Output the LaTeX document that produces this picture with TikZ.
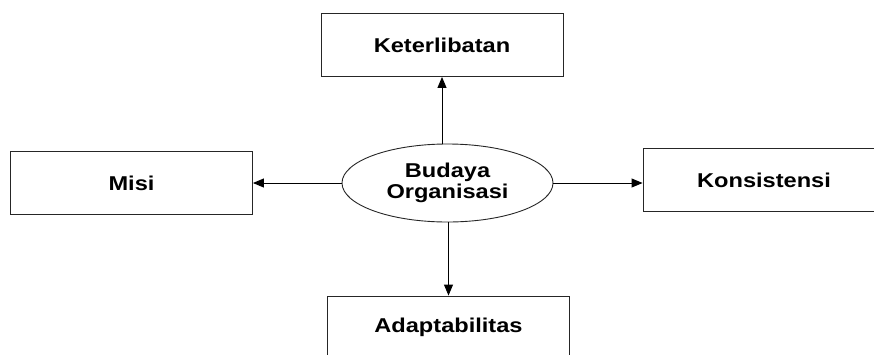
\documentclass[tikz,border=0pt]{standalone}
\usepackage{fontspec}
\newfontfamily\lab[FakeStretch=1.18]{Liberation Sans}
\usetikzlibrary{arrows.meta,shapes.geometric}
\begin{document}
\begin{tikzpicture}[x=1bp,y=-1bp,
  box/.style={draw=black!85,line width=0.9bp,minimum width=242bp,minimum height=63bp,inner sep=0pt,
    font=\lab\bfseries\fontsize{20bp}{21bp}\selectfont},
  oval/.style={draw=black!85,line width=0.9bp,ellipse,minimum width=211bp,minimum height=78bp,inner sep=0pt,align=center,
    font=\lab\bfseries\fontsize{20bp}{21bp}\selectfont},
  arr/.style={line width=0.9bp,-{Triangle[length=11bp,width=9bp]}}]
\useasboundingbox (0,0) rectangle (874,354);
\clip (0,0) rectangle (874,354);
\node[box] (ket) at (442,45) {Keterlibatan};
\node[box] (misi) at (131.5,183) {Misi};
\node[box] (kons) at (764,180) {Konsistensi};
\node[box] (adap) at (448.5,327.5) {Adaptabilitas};
\node[oval] (bud) at (447.5,183) {Budaya\\Organisasi};
\draw[arr] (ket.south |- bud.north) -- (ket.south);
\draw[arr] (bud.west) -- (misi.east);
\draw[arr] (bud.east) -- (bud.east -| kons.west);
\draw[arr] (adap.north |- bud.south) -- (adap.north);
\end{tikzpicture}
\end{document}
